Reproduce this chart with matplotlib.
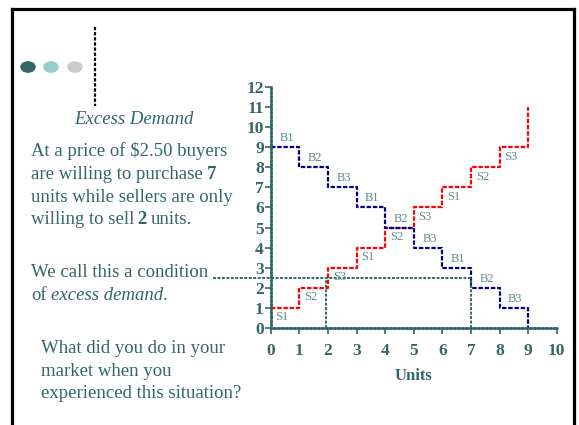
import numpy as np
import matplotlib.pyplot as plt
from matplotlib.lines import Line2D
from matplotlib.patches import Circle

# data
units = list(range(10))
supply = [1, 2, 3, 4, 5, 6, 7, 8, 9]
supply_top = 11
demand = [9, 8, 7, 6, 5, 4, 3, 2, 1]
demand_bottom = 0
s_labels = ['S1', 'S2', 'S3'] * 3
b_labels = ['B1', 'B2', 'B3'] * 3
price = 2.5
qd = 7
qs = 2
xticks = list(range(11))
yticks = list(range(13))

W, H = 579, 425
teal = '#336666'
lab = '#5f8c8c'
plt.rcParams['font.family'] = ['Liberation Serif', 'DejaVu Serif']

fig = plt.figure(figsize=(W / 100, H / 100), dpi=100)
ax = fig.add_axes([270.7 / W, 1 - 327.7 / H, 286 / W, 240.4 / H])

def fx(x):
    return x / W

def fy(y):
    return 1 - y / H

# frame of the slide
for xs, ys in [([12, 12], [9, H]), ([12, 574], [9, 9]), ([574, 574], [9, H])]:
    fig.add_artist(Line2D([fx(v) for v in xs], [fy(v) for v in ys], color='black', lw=2.3))

# bullets and separator
for cx, c in [(28, '#336666'), (51, '#99cccc'), (75, '#cccccc')]:
    fig.add_artist(Circle((fx(cx), fy(67)), 7 / W, color=c, transform=fig.transFigure))
fig.add_artist(Line2D([fx(95), fx(95)], [fy(27), fy(106)], color='black', lw=1.6, ls=(0, (1.5, 0.8))))

# steps
ax.plot(units + [9], supply + [supply[-1], supply_top], drawstyle='steps-post', color='#ff0000', lw=1.6, ls=(0, (2, 0.8)))
ax.plot(units + [9], demand + [demand[-1], demand_bottom], drawstyle='steps-post', color='#000080', lw=1.6, ls=(0, (2, 0.8)))

for i, (p, t) in enumerate(zip(demand, b_labels)):
    ax.text(i + 0.55, p + 0.45, t, color=lab, fontsize=9, ha='center', va='center')
for i, (p, t) in enumerate(zip(supply, s_labels)):
    ax.text(i + 0.4, p - 0.48, t, color=lab, fontsize=9, ha='center', va='center')

# excess demand lines
ax.plot([-2.02, qd], [price, price], color=teal, lw=1.4, ls=(0, (1.5, 0.8)), clip_on=False)
ax.plot([qs - 0.05, qs - 0.05], [0, price - 0.1], color=teal, lw=1.4, ls=(0, (1.5, 0.8)))
ax.plot([qd, qd], [0, price], color=teal, lw=1.4, ls=(0, (1.5, 0.8)))

ax.set_xlim(0, 10)
ax.set_ylim(0, 12)
ax.set_xticks(xticks)
ax.set_yticks(yticks)
for s in ['top', 'right']:
    ax.spines[s].set_visible(False)
for s in ['left', 'bottom']:
    ax.spines[s].set_color(teal)
    ax.spines[s].set_linewidth(1.8)
    ax.spines[s].set_linestyle((0, (1, 0.6)))
ax.patch.set_visible(False)
ax.tick_params(axis='both', colors=teal, length=4, width=1.2, labelsize=12.5)
ax.tick_params(axis='x', pad=7)
ax.tick_params(axis='y', pad=1)
for lbl in ax.get_xticklabels() + ax.get_yticklabels():
    lbl.set_fontweight('bold')
ax.set_xlabel('Units', color=teal, fontsize=12, fontweight='bold')
ax.xaxis.set_label_coords(0.5, -(376 - 327.7) / 240.4)
ax.xaxis.label.set_va('center')

# left side text
fs = 13.5

def line(x, y, pieces):
    prev = None
    for s, style, weight, gap in pieces:
        if prev is None:
            prev = fig.text(fx(x), fy(y), s, color=teal, fontsize=fs, style=style, fontweight=weight, va='bottom', ha='left')
        else:
            prev = ax.annotate(s, xy=(1, 0), xycoords=prev, xytext=(gap, 0), textcoords='offset points',
                               color=teal, fontsize=fs, style=style, fontweight=weight, va='bottom', ha='left', annotation_clip=False)

fig.text(fx(134), fy(119), 'Excess Demand', color=teal, fontsize=fs, style='italic', ha='center', va='center')
line(31, 160, [('At a price of $2.50 buyers', 'normal', 'normal', 0)])
line(31, 183, [('are willing to purchase', 'normal', 'normal', 0), ('7', 'normal', 'bold', 3)])
line(31, 206, [('units while sellers are only', 'normal', 'normal', 0)])
line(31, 228, [('willing to sell', 'normal', 'normal', 0), ('2', 'normal', 'bold', 2), ('units.', 'normal', 'normal', 3)])
line(31, 281, [('We call this a condition', 'normal', 'normal', 0)])
line(31, 304, [('of', 'normal', 'normal', 0), ('excess demand', 'italic', 'normal', 3), ('.', 'normal', 'normal', 0)])
line(41, 357, [('What did you do in your', 'normal', 'normal', 0)])
line(41, 380, [('market when you', 'normal', 'normal', 0)])
line(41, 402, [('experienced this situation?', 'normal', 'normal', 0)])

fig.savefig('out.png', dpi=100)
